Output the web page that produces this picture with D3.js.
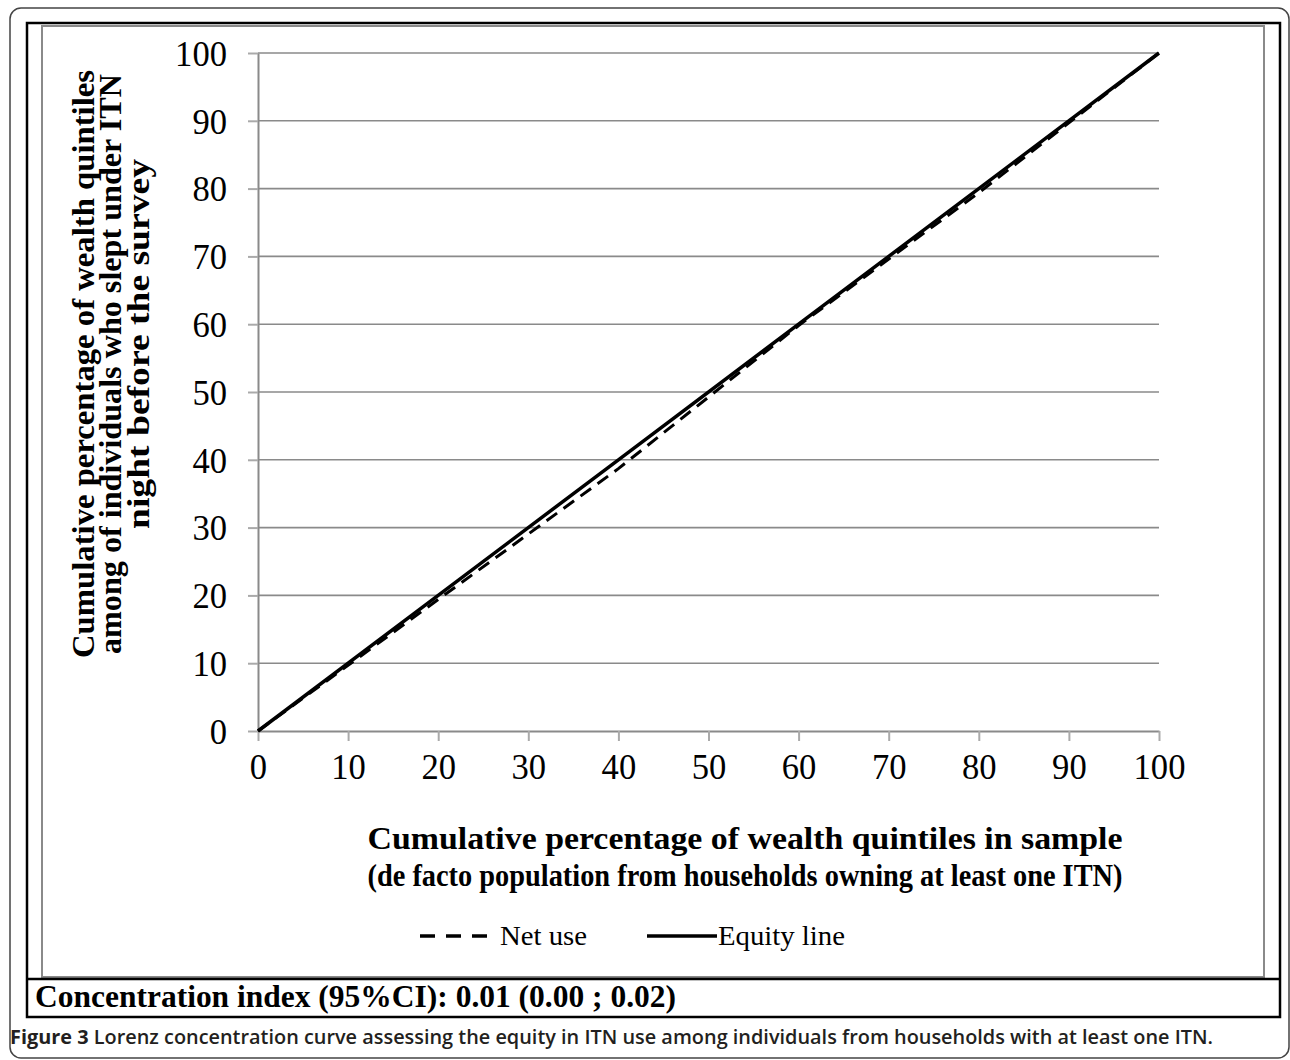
<!DOCTYPE html>
<html>
<head>
<meta charset="utf-8">
<script src="https://cdn.jsdelivr.net/npm/d3@7"></script>
<style>
  body { margin: 0; background: #fff; }
  svg { display: block; }
</style>
</head>
<body>
<svg id="drawing_region"></svg>
<script>
// cumulative % of wealth quintiles (x) and cumulative % of net users (y)
const quintiles = [0, 20, 40, 60, 80, 100];
const netUse = [0, 19.4, 38.7, 59.8, 79.4, 100];
const equity = [0, 20, 40, 60, 80, 100];
const xTicks = [0, 10, 20, 30, 40, 50, 60, 70, 80, 90, 100];
const yTicks = [0, 10, 20, 30, 40, 50, 60, 70, 80, 90, 100];
const yTitle = ["Cumulative percentage of wealth quintiles",
                "among of individuals who slept under ITN",
                "night before the survey"];
const xTitle = ["Cumulative percentage of wealth quintiles in sample",
                "(de facto population from households owning at least one ITN)"];
const legendLabels = ["Net use", "Equity line"];
const indexText = "Concentration index (95%CI): 0.01 (0.00 ; 0.02)";
const captionBold = "Figure 3";
const captionText = " Lorenz concentration curve assessing the equity in ITN use among individuals from households with at least one ITN.";

const W = 1290, H = 1060;
const serif = "'Liberation Serif', 'Times New Roman', serif";

const svg = d3.select('#drawing_region')
    .attr('width', W)
    .attr('height', H);

// frames
svg.append('rect')
    .attr('x', 10).attr('y', 8).attr('width', 1279).attr('height', 1050)
    .attr('rx', 11)
    .attr('fill', 'none').attr('stroke', '#444').attr('stroke-width', 1.5);

svg.append('rect')
    .attr('x', 42).attr('y', 26).attr('width', 1222).attr('height', 951)
    .attr('fill', 'none').attr('stroke', '#8a8a8a').attr('stroke-width', 2);

svg.append('rect')
    .attr('x', 27).attr('y', 23).attr('width', 1253).attr('height', 994)
    .attr('fill', 'none').attr('stroke', '#000').attr('stroke-width', 2.5);

svg.append('line')
    .attr('x1', 27).attr('x2', 1280).attr('y1', 979).attr('y2', 979)
    .attr('stroke', '#000').attr('stroke-width', 2.5);

// scales
const xscale = d3.scaleLinear().domain([0, 100]).range([258, 1159]);
const yscale = d3.scaleLinear().domain([0, 100]).range([731, 53]);

// gridlines
svg.append('g')
    .selectAll('line')
    .data(yTicks.filter(d => d > 0))
    .join('line')
    .attr('x1', xscale(0)).attr('x2', xscale(100))
    .attr('y1', d => yscale(d)).attr('y2', d => yscale(d))
    .attr('stroke', '#8a8a8a').attr('stroke-width', 1.6);

// axes
const xaxis = d3.axisBottom(xscale)
    .tickValues(xTicks)
    .tickSize(10)
    .tickSizeOuter(0)
    .tickPadding(12);
const xg = svg.append('g')
    .attr('transform', `translate(0, ${yscale(0)})`)
    .call(xaxis);

const yaxis = d3.axisLeft(yscale)
    .tickValues(yTicks)
    .tickSize(10)
    .tickSizeOuter(0)
    .tickPadding(21);
const yg = svg.append('g')
    .attr('transform', `translate(${xscale(0)}, 0)`)
    .call(yaxis);

[xg, yg].forEach(g => {
    g.select('.domain').attr('stroke', '#8a8a8a').attr('stroke-width', 2);
    g.selectAll('.tick line').attr('stroke', '#aaa').attr('stroke-width', 2);
    g.selectAll('.tick text')
        .attr('font-family', serif)
        .attr('font-size', 36)
        .attr('fill', '#000')
        .attr('textLength', d => String(d).length * 17.3)
        .attr('lengthAdjust', 'spacingAndGlyphs');
});
xg.selectAll('.tick text').attr('dy', '0.72em');
yg.selectAll('.tick text').attr('dy', '0.34em');

// lines
const lineGen = d3.line()
    .x(d => xscale(d[0]))
    .y(d => yscale(d[1]));

svg.append('path')
    .datum(quintiles.map((q, i) => [q, netUse[i]]))
    .attr('d', lineGen)
    .attr('fill', 'none')
    .attr('stroke', '#000')
    .attr('stroke-width', 3)
    .attr('stroke-dasharray', '13,8');

svg.append('path')
    .datum(quintiles.map((q, i) => [q, equity[i]]))
    .attr('d', lineGen)
    .attr('fill', 'none')
    .attr('stroke', '#000')
    .attr('stroke-width', 3.5);

// y title (rotated, centred lines)
const yCols = [94, 121, 149];
const yCentres = [364, 364, 344];
const yLens = [588, 580, 370];
const yt = svg.append('text')
    .attr('transform', 'rotate(-90)')
    .attr('font-family', serif)
    .attr('font-weight', 'bold')
    .attr('font-size', 32)
    .attr('text-anchor', 'middle');
yTitle.forEach((t, i) => {
    yt.append('tspan')
        .attr('x', -yCentres[i])
        .attr('y', yCols[i])
        .attr('textLength', yLens[i])
        .attr('lengthAdjust', 'spacingAndGlyphs')
        .text(t);
});

// x title
xTitle.forEach((t, i) => {
    svg.append('text')
        .attr('x', 745)
        .attr('y', 849 + i * 37)
        .attr('font-family', serif)
        .attr('font-weight', 'bold')
        .attr('font-size', 31)
        .attr('text-anchor', 'middle')
        .attr('textLength', 755)
        .attr('lengthAdjust', 'spacingAndGlyphs')
        .text(t);
});

// legend
const legend = svg.append('g');
legend.append('line')
    .attr('x1', 420).attr('x2', 487).attr('y1', 936).attr('y2', 936)
    .attr('stroke', '#000').attr('stroke-width', 3.5)
    .attr('stroke-dasharray', '15,11');
legend.append('text')
    .attr('x', 500).attr('y', 945)
    .attr('font-family', serif).attr('font-size', 28)
    .attr('textLength', 87).attr('lengthAdjust', 'spacingAndGlyphs')
    .text(legendLabels[0]);
legend.append('line')
    .attr('x1', 647).attr('x2', 717).attr('y1', 936).attr('y2', 936)
    .attr('stroke', '#000').attr('stroke-width', 3.5);
legend.append('text')
    .attr('x', 718).attr('y', 945)
    .attr('font-family', serif).attr('font-size', 28)
    .attr('textLength', 127).attr('lengthAdjust', 'spacingAndGlyphs')
    .text(legendLabels[1]);

// concentration index
svg.append('text')
    .attr('x', 35).attr('y', 1007)
    .attr('font-family', serif)
    .attr('font-weight', 'bold')
    .attr('font-size', 31)
    .attr('textLength', 641)
    .attr('lengthAdjust', 'spacingAndGlyphs')
    .text(indexText);

// caption
const cap = svg.append('text')
    .attr('x', 10).attr('y', 1044)
    .attr('font-family', "'Open Sans', 'Noto Sans', sans-serif")
    .attr('font-size', 19)
    .attr('fill', '#231f20')
    .attr('textLength', 1203)
    .attr('lengthAdjust', 'spacingAndGlyphs');
cap.append('tspan').attr('font-weight', 'bold').text(captionBold);
cap.append('tspan').attr('font-weight', 600).text(captionText);
</script>
</body>
</html>
